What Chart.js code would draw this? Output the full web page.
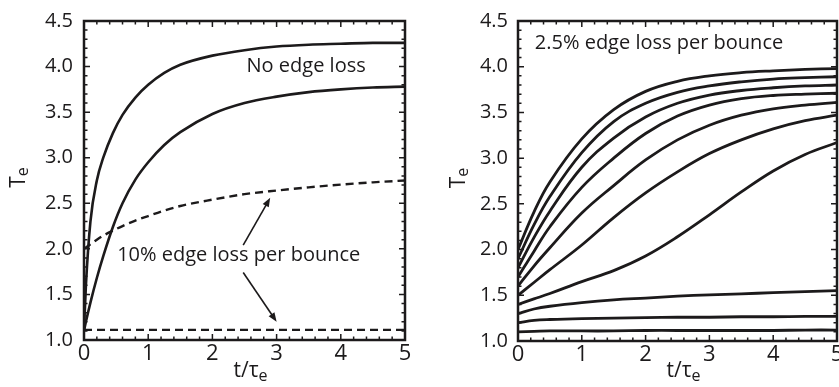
<!DOCTYPE html>
<html>
<head>
<meta charset="utf-8">
<script src="https://cdn.jsdelivr.net/npm/chart.js@4.4.1/dist/chart.umd.min.js"></script>
<style>
    html, body { margin: 0; padding: 0; background: #fff; }
    #lienzo { position: relative; width: 839px; height: 387px; overflow: hidden; }
    #lienzo canvas { position: absolute; top: 0; }
</style>
</head>
<body>
<div id="lienzo">
    <canvas id="graficoIzq" width="420" height="387" style="left:0"></canvas>
    <canvas id="graficoDer" width="419" height="387" style="left:420px"></canvas>
</div>
<script>
// Datos (t/tau_e en x, Te en y)
const tIzq = [0, 0.03, 0.1, 0.2, 0.3, 0.45, 0.6, 0.8, 1, 1.25, 1.5, 2, 2.5, 3, 3.5, 4, 4.5, 5];
const sinPerdidaA = [1.1, 1.6, 2.3, 2.75, 3.0, 3.27, 3.47, 3.66, 3.8, 3.93, 4.02, 4.12, 4.18, 4.22, 4.24, 4.25, 4.26, 4.26];
const sinPerdidaB = [1.1, 1.2, 1.41, 1.68, 1.92, 2.24, 2.5, 2.76, 2.95, 3.14, 3.28, 3.48, 3.6, 3.67, 3.72, 3.75, 3.77, 3.78];
const perdida10A = [2.0, 2.015, 2.05, 2.1, 2.145, 2.2, 2.25, 2.31, 2.36, 2.42, 2.47, 2.54, 2.6, 2.64, 2.675, 2.705, 2.73, 2.75];
const perdida10B = [1.11, 1.11, 1.11, 1.11, 1.11, 1.11, 1.11, 1.11, 1.11, 1.11, 1.11, 1.11, 1.11, 1.11, 1.11, 1.11, 1.11, 1.11];

const tDer = [0, 0.25, 0.5, 1, 1.5, 2, 2.5, 3, 3.5, 4, 4.5, 5];
const curva1 = [2.0, 2.41, 2.74, 3.21, 3.53, 3.73, 3.84, 3.9, 3.935, 3.955, 3.97, 3.98];
const curva2 = [1.9, 2.27, 2.58, 3.06, 3.4, 3.6, 3.72, 3.79, 3.835, 3.865, 3.88, 3.89];
const curva3 = [1.8, 2.13, 2.42, 2.9, 3.22, 3.45, 3.6, 3.69, 3.74, 3.77, 3.79, 3.8];
const curva4 = [1.7, 1.98, 2.25, 2.68, 3.0, 3.27, 3.46, 3.58, 3.65, 3.685, 3.7, 3.71];
const curva5 = [1.6, 1.82, 2.02, 2.4, 2.7, 2.98, 3.2, 3.36, 3.47, 3.54, 3.58, 3.61];
const curva6 = [1.5, 1.64, 1.78, 2.05, 2.35, 2.62, 2.85, 3.05, 3.2, 3.32, 3.41, 3.47];
const curva7 = [1.4, 1.46, 1.52, 1.65, 1.77, 1.93, 2.14, 2.38, 2.63, 2.86, 3.04, 3.17];
const curva8 = [1.3, 1.35, 1.38, 1.42, 1.45, 1.47, 1.49, 1.505, 1.515, 1.53, 1.54, 1.55];
const curva9 = [1.2, 1.225, 1.235, 1.245, 1.25, 1.255, 1.26, 1.26, 1.265, 1.265, 1.27, 1.27];
const curva10 = [1.1, 1.105, 1.11, 1.11, 1.11, 1.115, 1.115, 1.115, 1.115, 1.115, 1.12, 1.12];
const curvasDer = [curva1, curva2, curva3, curva4, curva5, curva6, curva7, curva8, curva9, curva10];

const ticksY = [1.0, 1.5, 2.0, 2.5, 3.0, 3.5, 4.0, 4.5];
const ticksX = [0, 1, 2, 3, 4, 5];

const tinta = '#1c1a1b';
const fuente = '"Open Sans", "DejaVu Sans", sans-serif';

// Convierte dos arrays en puntos {x, y}
function puntos(ts, vs) {
    return ts.map((t, i) => ({ x: t, y: vs[i] }));
}

// Dibuja una flecha con punta rellena
function flecha(ctx, x1, y1, x2, y2) {
    const ang = Math.atan2(y2 - y1, x2 - x1);
    const L = 9, W = 3.5;
    const c = Math.cos(ang), s = Math.sin(ang);
    ctx.lineWidth = 1.6;
    ctx.beginPath();
    ctx.moveTo(x1, y1);
    ctx.lineTo(x2 - L * 0.7 * c, y2 - L * 0.7 * s);
    ctx.stroke();
    ctx.beginPath();
    ctx.moveTo(x2, y2);
    ctx.lineTo(x2 - L * c + W * s, y2 - L * s - W * c);
    ctx.lineTo(x2 - L * c - W * s, y2 - L * s + W * c);
    ctx.closePath();
    ctx.fill();
}

// Plugin: marco, marcas interiores, títulos con subíndice y anotaciones
const marco = {
    id: 'marco',
    afterDraw(chart, args, opts) {
        const ctx = chart.ctx;
        const a = chart.chartArea;
        const sx = chart.scales.x, sy = chart.scales.y;
        ctx.save();
        ctx.strokeStyle = tinta;
        ctx.fillStyle = tinta;

        // marcas menores y mayores hacia dentro en los cuatro lados
        ctx.lineWidth = 1.5;
        ctx.beginPath();
        for (let i = 0; i <= 25; i++) {
            const px = sx.getPixelForValue(i * 0.2);
            const len = i % 5 === 0 ? 6 : 3.5;
            ctx.moveTo(px, a.bottom); ctx.lineTo(px, a.bottom - len);
            ctx.moveTo(px, a.top); ctx.lineTo(px, a.top + len);
        }
        for (let i = 0; i <= 35; i++) {
            const py = sy.getPixelForValue(1 + i * 0.1);
            const len = i % 5 === 0 ? 6 : 3.5;
            ctx.moveTo(a.left, py); ctx.lineTo(a.left + len, py);
            ctx.moveTo(a.right, py); ctx.lineTo(a.right - len, py);
        }
        ctx.stroke();
        ctx.lineWidth = 2.5;
        ctx.strokeRect(a.left, a.top, a.right - a.left, a.bottom - a.top);

        // título eje x: t/τ con subíndice e
        ctx.textAlign = 'left';
        ctx.textBaseline = 'alphabetic';
        ctx.font = '21px ' + fuente;
        const wb = ctx.measureText('t/τ').width;
        ctx.font = '16px ' + fuente;
        const we = ctx.measureText('e').width;
        const x0 = (a.left + a.right) / 2 + 6 - (wb + we) / 2;
        ctx.font = '21px ' + fuente;
        ctx.fillText('t/τ', x0, 377);
        ctx.font = '16px ' + fuente;
        ctx.fillText('e', x0 + wb, 381);

        // título eje y: T con subíndice e, girado
        ctx.save();
        ctx.translate(opts.baseY, (a.top + a.bottom) / 2 - 3);
        ctx.rotate(-Math.PI / 2);
        ctx.font = '21px ' + fuente;
        const wT = ctx.measureText('T').width;
        const y0 = -(wT + we) / 2;
        ctx.fillText('T', y0, 0);
        ctx.font = '16px ' + fuente;
        ctx.fillText('e', y0 + wT, 3);
        ctx.restore();

        // textos dentro del gráfico
        ctx.font = '20px ' + fuente;
        ctx.textAlign = 'center';
        ctx.textBaseline = 'middle';
        (opts.textos || []).forEach(tx => {
            ctx.fillText(tx.texto, sx.getPixelForValue(tx.x), sy.getPixelForValue(tx.y));
        });

        // flechas
        (opts.flechas || []).forEach(f => {
            flecha(ctx, sx.getPixelForValue(f[0]), sy.getPixelForValue(f[1]),
                sx.getPixelForValue(f[2]), sy.getPixelForValue(f[3]));
        });
        ctx.restore();
    }
};

// Opciones comunes de ejes
function opcionesEjes(anchoY, altoX, padY) {
    return {
        x: {
            type: 'linear',
            min: 0, max: 5,
            grid: { display: false, drawTicks: false },
            border: { display: false },
            afterBuildTicks: s => { s.ticks = ticksX.map(v => ({ value: v })); },
            ticks: {
                color: tinta,
                padding: 1,
                maxRotation: 0,
                font: { family: fuente, size: 22 },
                callback: v => String(v)
            },
            afterFit: s => { s.height = altoX; s.paddingLeft = 0; s.paddingRight = 0; }
        },
        y: {
            type: 'linear',
            min: 1, max: 4.5,
            grid: { display: false, drawTicks: false },
            border: { display: false },
            afterBuildTicks: s => { s.ticks = ticksY.map(v => ({ value: v })); },
            ticks: {
                color: tinta,
                padding: padY,
                font: { family: fuente, size: 20 },
                callback: v => Number(v).toFixed(1)
            },
            afterFit: s => { s.width = anchoY; s.paddingTop = 0; s.paddingBottom = 0; }
        }
    };
}

function serie(ts, vs, ancho, guiones, suave) {
    const ds = {
        data: puntos(ts, vs),
        borderColor: tinta,
        borderWidth: ancho,
        borderDash: guiones || [],
        pointRadius: 0,
        fill: false
    };
    if (suave) {
        ds.tension = 0.4;
    } else {
        ds.cubicInterpolationMode = 'monotone';
    }
    return ds;
}

// Gráfica izquierda
new Chart(document.getElementById('graficoIzq'), {
    type: 'line',
    data: {
        datasets: [
            serie(tIzq, sinPerdidaA, 2.6),
            serie(tIzq, sinPerdidaB, 2.6),
            serie(tIzq, perdida10A, 2.4, [8, 5]),
            serie(tIzq, perdida10B, 2.2, [8, 5])
        ]
    },
    options: {
        responsive: false,
        animation: false,
        devicePixelRatio: 1,
        layout: { padding: { top: 21, right: 15, left: 0, bottom: 0 } },
        scales: opcionesEjes(84, 47, 11),
        plugins: {
            legend: { display: false },
            tooltip: { enabled: false },
            marco: {
                baseY: 25,
                textos: [
                    { texto: 'No edge loss', x: 3.46, y: 4.0 },
                    { texto: '10% edge loss per bounce', x: 2.41, y: 1.93 }
                ],
                flechas: [
                    [2.48, 2.04, 2.9, 2.56],
                    [2.48, 1.74, 3.0, 1.2]
                ]
            }
        }
    },
    plugins: [marco]
});

// Gráfica derecha
new Chart(document.getElementById('graficoDer'), {
    type: 'line',
    data: {
        datasets: curvasDer.map(c => serie(tDer, c, 2.8, null, true))
    },
    options: {
        responsive: false,
        animation: false,
        devicePixelRatio: 1,
        layout: { padding: { top: 21, right: 2, left: 0, bottom: 0 } },
        scales: opcionesEjes(98, 46, 10),
        plugins: {
            legend: { display: false },
            tooltip: { enabled: false },
            marco: {
                baseY: 45,
                textos: [
                    { texto: '2.5% edge loss per bounce', x: 2.21, y: 4.26 }
                ]
            }
        }
    },
    plugins: [marco]
});
</script>
</body>
</html>
